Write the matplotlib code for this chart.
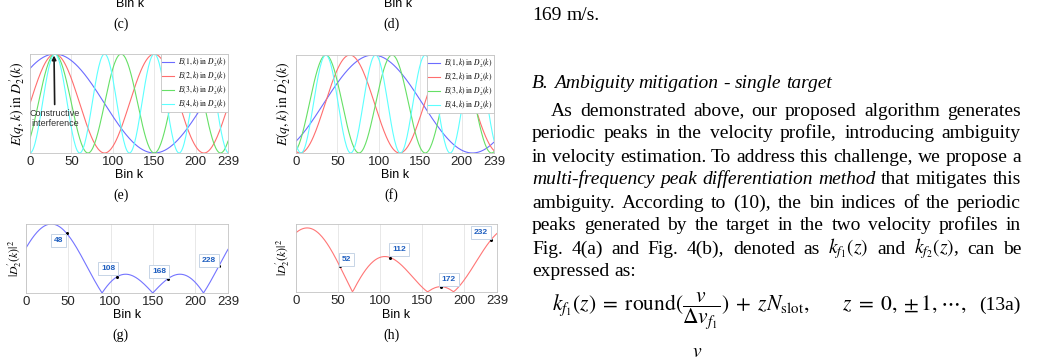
import numpy as np
import matplotlib
matplotlib.use("Agg")
import matplotlib.pyplot as plt
from matplotlib.lines import Line2D

W, H, DPI = 1040, 359, 100

# ---- data --------------------------------------------------------------
N_BINS = 240
HARMONICS = [1, 2, 3, 4]
E_PEAKS = [30, 30, 30, 30]      # (e) every envelope peaks at bin 30
F_PEAKS = [93, 65, 36, 36]      # (f) envelope peak bins
G_TIPS = [48, 108, 168, 228]
H_TIPS = [52, 112, 172, 232]
XTICKS = [0, 50, 100, 150, 200, 239]
CURVE_COLORS = ["#6c6cff", "#ff6e6e", "#66e066", "#5cffff"]

plt.rcParams["font.family"] = "Liberation Sans"
plt.rcParams["mathtext.fontset"] = "stix"

SERIF = "Liberation Serif"
BODY = 14
TIP_BLUE = "#1f5fc0"

k = np.arange(N_BINS)


def phases(peaks):
    return [2 * np.pi * q * (k - p) / N_BINS for q, p in zip(HARMONICS, peaks)]


def fx(x):
    return x / W


def fy(y):
    return 1 - y / H


def px_axes(fig, left, top, right, bottom):
    return fig.add_axes([left / W, 1 - bottom / H, (right - left) / W, (bottom - top) / H])


def style_axes(ax, ymax):
    ax.set_xlim(0, 239)
    ax.set_ylim(0, ymax)
    ax.set_xticks(XTICKS)
    ax.set_yticks([])
    ax.tick_params(axis="x", length=0, labelsize=9.5, pad=2.5, colors="#262626")
    ax.grid(axis="x", color="#e4e4e4", lw=0.6)
    ax.set_axisbelow(True)
    for s in ax.spines.values():
        s.set_color("#c4c4c4")
        s.set_linewidth(0.6)


fig = plt.figure(figsize=(W / DPI, H / DPI), dpi=DPI)
r = fig.canvas.get_renderer()

# ---- leftovers of (c)/(d) at the top --------------------------------------
for xc, xl, cap in [(121, 130, "(c)"), (392, 398, "(d)")]:
    fig.text(fx(xl), fy(4), "Bin k", fontsize=9, ha="center", va="center")
    fig.text(fx(xc), fy(24), cap, fontsize=10, family=SERIF, ha="center", va="center")

# ---- (e) and (f): envelope curves ----------------------------------------
labels = [r"$E(%d,k)\ \mathrm{in}\ D^{\prime}_2(k)$" % q for q in HARMONICS]
panels = [
    (E_PEAKS, (30, 54, 228, 153), 17, 121, "(e)"),
    (F_PEAKS, (296, 55, 494, 153), 283, 391, "(f)"),
]
for peaks, box, ylx, capx, cap in panels:
    ax = px_axes(fig, *box)
    style_axes(ax, 1)
    for th, c in zip(phases(peaks), CURVE_COLORS):
        ax.plot(k, (1 + np.cos(th)) / 2, color=c, lw=0.8)
    handles = [Line2D([], [], color=c, lw=0.8) for c in CURVE_COLORS]
    leg = ax.legend(handles, labels, loc="upper right", fontsize=5.5,
                    borderaxespad=0, handlelength=1.6, handletextpad=0.5,
                    labelspacing=0.0, borderpad=0.2, fancybox=False,
                    framealpha=1, edgecolor="#c4c4c4")
    leg.get_frame().set_linewidth(0.6)
    xc = (box[0] + box[2]) / 2
    fig.text(fx(xc), fy(175), "Bin k", fontsize=9, ha="center", va="center")
    fig.text(fx(ylx), fy((box[1] + box[3]) / 2), r"$E(q,k)\ \mathrm{in}\ D^{\prime}_2(k)$",
             fontsize=9.8, rotation=90, ha="center", va="center")
    fig.text(fx(capx), fy(195), cap, fontsize=10, family=SERIF, ha="center", va="center")
    if cap == "(e)":
        ax.annotate("Constructive\ninterference", xy=(29, 0.985), xytext=(30, 0.35),
                    ha="center", va="center", fontsize=6.5, color="#333333",
                    arrowprops=dict(arrowstyle="-|>", color="#1a1a1a", lw=1.2,
                                    mutation_scale=6, shrinkA=1, shrinkB=0))

# ---- (g) and (h): magnitude of the summed phasors ------------------------
mag_panels = [
    (E_PEAKS, G_TIPS, (26, 224, 228, 293), "#7474ff", 15, 120, "(g)",
     [(-5.8, -5), (-6.5, 5.8), (-6.5, 5), (-7.2, 4.3)]),
    (F_PEAKS, H_TIPS, (296, 224, 497, 292), "#ff7676", 283, 392, "(h)",
     [(5, 5), (6.5, 5.8), (5.8, 5), (-7.2, 5)]),
]
for peaks, tips, box, color, ylx, capx, cap, offs in mag_panels:
    ax = px_axes(fig, *box)
    style_axes(ax, 4)
    mag = np.abs(np.sum([np.exp(1j * th) for th in phases(peaks)], axis=0))
    ax.plot(k, mag, color=color, lw=0.8)
    for b, (dx, dy) in zip(tips, offs):
        ax.plot(b, mag[b], "o", ms=1.2, color="black", zorder=5)
        ax.annotate(str(b), (b, mag[b]), xytext=(dx, dy), textcoords="offset points",
                    ha="center", va="center", fontsize=6, fontweight="bold",
                    color=TIP_BLUE, zorder=6,
                    bbox=dict(boxstyle="square,pad=0.35", fc="white", ec="#c6d4e6", lw=0.7))
    xc = (box[0] + box[2]) / 2
    fig.text(fx(xc), fy(315), "Bin k", fontsize=9, ha="center", va="center")
    fig.text(fx(ylx), fy((box[1] + box[3]) / 2), r"$|D^{\prime}_2(k)|^2$",
             fontsize=8.5, rotation=90, ha="center", va="center")
    fig.text(fx(capx), fy(335), cap, fontsize=10, family=SERIF, ha="center", va="center")

# ---- right-hand text column ----------------------------------------------
X0, X1 = 532, 1021


def text_line(yc, parts, x0=X0, fill=True):
    words = []
    for s, st in parts:
        for w in s.split(" "):
            if w:
                words.append((w, st))
    objs = [fig.text(0, fy(yc + 5.5), w, fontsize=BODY, family=SERIF, style=st,
                     ha="left", va="baseline") for w, st in words]
    widths = [t.get_window_extent(r).width for t in objs]
    if fill and len(objs) > 1:
        gap = (X1 - x0 - sum(widths)) / (len(objs) - 1)
    else:
        gap = BODY * DPI / 72 * 0.25
    x = x0
    for t, w in zip(objs, widths):
        t.set_x(fx(x))
        x += w + gap


N, I = "normal", "italic"
text_line(15, [("169 m/s.", N)], fill=False)
text_line(83, [("B. Ambiguity mitigation - single target", I)], fill=False)
text_line(110, [("As demonstrated above, our proposed algorithm generates", N)], x0=551)
text_line(133, [("periodic peaks in the velocity profile, introducing ambiguity", N)])
text_line(156, [("in velocity estimation. To address this challenge, we propose a", N)])
text_line(179, [("multi-frequency peak differentiation method", I), ("that mitigates this", N)])
text_line(202, [("ambiguity. According to (10), the bin indices of the periodic", N)])
text_line(225, [("peaks generated by the target in the two velocity profiles in", N)])
text_line(248, [(r"Fig. 4(a) and Fig. 4(b), denoted as $k_{f_1}(z)$ and $k_{f_2}(z)$, can be", N)])
text_line(271, [("expressed as:", N)], fill=False)

eq = (r"$k_{f_1}(z) \;=\; \mathrm{round}(\dfrac{v}{\Delta v_{f_1}}) \;+\; zN_{\mathrm{slot}},"
      r"\qquad z \;=\; 0, \pm 1, \cdots,$")
fig.text(fx(552), fy(310), eq, fontsize=15.5, family=SERIF, ha="left", va="baseline")
fig.text(fx(X1), fy(310), "(13a)", fontsize=BODY, family=SERIF, ha="right", va="baseline")
fig.text(fx(692), fy(357), r"$v$", fontsize=BODY, ha="left", va="baseline")

fig.savefig("out.png", dpi=DPI)
